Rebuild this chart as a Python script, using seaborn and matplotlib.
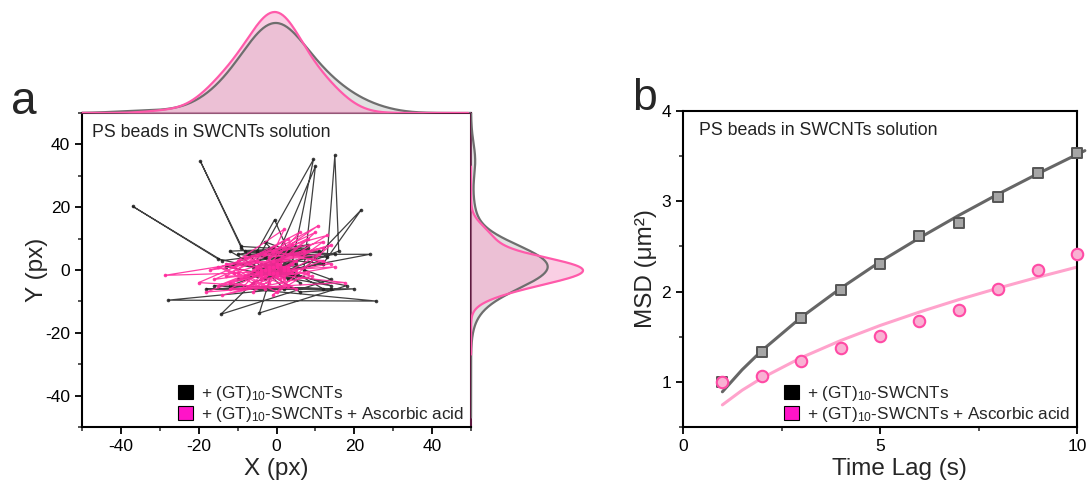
import numpy as np
import pandas as pd
import matplotlib
matplotlib.use("Agg")
import matplotlib.pyplot as plt
from matplotlib.patches import Patch
from matplotlib.ticker import MultipleLocator
import seaborn as sns

# ---------------- data ----------------
# Bead trajectory, (GT)10-SWCNTs (px)
black_x = [-5, 8, -10, 12, -3, 5, -15, -37, -14, 6,
           -8, 10, -2, 15, -6, 9.5, 4, -12, 14, -16,
           25.7, -27.8, 2, -9, -19.6, -9, 11, -4, 14, -14.3,
           -6, 16, 15, 13, -1, -11, 18, -4.4, 0, 10,
           7, 21.8, 12, -10, 24, -7, 3, -0.5, -5, 12,
           -18, 20, 6, -12, 8, -3, 14, -13, 4, -8,
           4, -3, 2, -6, 5, -1, 3, -4, 6, 0,
           -2, 1, -5, 3, 2, -4, 5, -1, 1, -3,
           4, -2, 0, -6, 2, -1, 3, -3, 4, -5,
           1, -2, 0, 5, -4, 3, -1, 2, -2, 1]
black_y = [3, 8, 5, 2, 9, -2, 3.5, 20.3, 3, 6,
           6, 4, 7, 5, 1, 35.2, 2, -5, -6, -5,
           -9.9, -9.6, -6, 7, 34.7, 7.5, 6, 5, -3, -14.1,
           -4, 6, 36.5, 4, 7, 2, -5, -13.7, 4, 33,
           0, 19.2, 2, -3, 5, 5, 6, 16, 6, -6,
           -6, -6, -7, 6, 7, 2, -5, 1, 5, -2,
           2, -3, 1, -1, 3, -2, 0, 2, -4, 1,
           -1, 3, -2, 0, 1, -3, 2, -1, 0, 4,
           -2, 1, 3, -1, 0, 2, -3, 1, -2, 0,
           3, -1, 1, -2, 0, 2, -1, 0, 1, -1]

# Bead trajectory, (GT)10-SWCNTs + ascorbic acid (px)
pink_x = [-8, -15, -3, -12, 2, -16, -5, -28.7, -10, 0,
          -13, 5, -7, 8, -2, 12, -6, 10.6, -1, 14,
          -9, -18, 3, -11, 6, -4, 17.5, -12, 1, 13,
          -8, 9, -14, -2, 11, -17, 4, -6, 12, -10,
          2, -4, 15, -11, 7, -15, 0, 10, -7, 5,
          -20, -3, 12, -9, 3, -13, 8, -1, 14, -5,
          3, -4, 1, -2, 4, -5, 2, -1, 5, -3,
          0, -2, 3, -4, 1, 4, -1, 2, -3, 0,
          -1, 3, -5, 1, 2, -2, 3, 0, 4, -1]
pink_y = [-2, 1, -6, -4, 0, -3, 3, -1.7, -1, -7,
          2, 3, -5, 10, 4, 7, 0, 14, 6, 2,
          -3, -7, -5, 1, 12, -1, -4, -6, 2, 11,
          4, -2, -8, -4, 5, 0, 8, -7, 9, 3,
          13, -3, 1, -1, 6, -5, 1, 12, 2, -6,
          -4, 5, 3, -6, 10, -2, -1, -8, 8, 1,
          1, -2, 2, 0, -1, 3, -3, 1, 0, -2,
          2, -1, 1, 0, -3, 2, -1, 1, 0, -2,
          3, 0, -1, 2, -2, 1, 0, -1, 2, -1]

# Mean squared displacement vs time lag
lag_time = [1, 2, 3, 4, 5, 6, 7, 8, 9, 10]
msd_gt = [1.00, 1.335, 1.71, 2.02, 2.31, 2.62, 2.76, 3.05, 3.31, 3.53]
msd_gt_aa = [1.00, 1.07, 1.23, 1.37, 1.51, 1.67, 1.80, 2.03, 2.235, 2.42]

# Fitted curves
fit_time = [1, 1.5, 2, 3, 4, 5, 6, 7, 8, 9, 10, 10.2]
fit_gt = [0.89, 1.134, 1.346, 1.715, 2.036, 2.33, 2.594, 2.844, 3.08, 3.304, 3.519, 3.561]
fit_time_aa = [1, 1.5, 2, 3, 4, 5, 6, 7, 8, 9, 10]
fit_gt_aa = [0.745, 0.907, 1.042, 1.268, 1.457, 1.624, 1.773, 1.911, 2.038, 2.158, 2.271]

legend_labels = ["+ (GT)$_{\\mathregular{10}}$-SWCNTs",
                 "+ (GT)$_{\\mathregular{10}}$-SWCNTs + Ascorbic acid"]

# ---------------- style ----------------
sns.set_theme(style="ticks")
plt.rcParams["font.family"] = ["Liberation Sans", "DejaVu Sans"]
plt.rcParams["mathtext.fontset"] = "custom"
plt.rcParams["mathtext.rm"] = "Liberation Sans"
plt.rcParams["mathtext.it"] = "Liberation Sans:italic"
plt.rcParams["axes.unicode_minus"] = False
plt.rcParams["axes.linewidth"] = 1.5
plt.rcParams["xtick.major.width"] = 1.3
plt.rcParams["ytick.major.width"] = 1.3
plt.rcParams["xtick.minor.width"] = 1.1
plt.rcParams["ytick.minor.width"] = 1.1
plt.rcParams["xtick.major.size"] = 5
plt.rcParams["ytick.major.size"] = 5
plt.rcParams["xtick.minor.size"] = 3
plt.rcParams["ytick.minor.size"] = 3
plt.rcParams["xtick.direction"] = "out"
plt.rcParams["ytick.direction"] = "out"

W, H = 1090, 486
fig = plt.figure(figsize=(W / 100, H / 100), dpi=100)


def rect(l, t, r, b):
    return [l / W, 1 - b / H, (r - l) / W, (b - t) / H]


BLACK = "#1e1e1e"
PINK = "#ff2a9c"
GREY_LINE = "#6e6e6e"
GREY_FILL = "#bdbdbd"
PINK_LINE = "#ff5aaa"
PINK_FILL = "#f7a0ca"
FRAME = "#5e1a40"
TEXT_SIZE = 12.8
LEGEND_SIZE = 12.3
TICK_SIZE = 12.5
LABEL_SIZE = 17.5

# ---------------- panel a ----------------
ax = fig.add_axes(rect(82, 113, 471, 427))
ax_top = fig.add_axes(rect(82, 0, 471, 113), sharex=ax)
ax_right = fig.add_axes(rect(471, 113, 592, 427), sharey=ax)

traj_black = pd.DataFrame({"x": black_x, "y": black_y})
traj_pink = pd.DataFrame({"x": pink_x, "y": pink_y})

sns.lineplot(data=traj_black, x="x", y="y", sort=False, estimator=None, ax=ax,
             color=BLACK, lw=0.9, alpha=0.85, marker="o", markersize=2.6,
             markeredgewidth=0)
sns.lineplot(data=traj_pink, x="x", y="y", sort=False, estimator=None, ax=ax,
             color=PINK, lw=0.9, alpha=0.9, marker="o", markersize=2.6,
             markeredgewidth=0)

ax.set_xlim(-50, 50)
ax.set_ylim(-50, 50)
ax.xaxis.set_major_locator(MultipleLocator(20))
ax.xaxis.set_minor_locator(MultipleLocator(10))
ax.yaxis.set_major_locator(MultipleLocator(20))
ax.yaxis.set_minor_locator(MultipleLocator(10))
ax.tick_params(axis="both", which="major", labelsize=TICK_SIZE, colors="black")
ax.set_xlabel("X (px)", fontsize=LABEL_SIZE, labelpad=3)
ax.set_ylabel("Y (px)", fontsize=LABEL_SIZE, labelpad=-2)
for side in ("left", "bottom"):
    ax.spines[side].set_color("black")
for side in ("top", "right"):
    ax.spines[side].set_color(FRAME)
ax.text(0.025, 0.965, "PS beads in SWCNTs solution", transform=ax.transAxes,
        ha="left", va="top", fontsize=TEXT_SIZE, color="#222222")

handles = [Patch(facecolor="black", edgecolor="black", lw=0.8),
           Patch(facecolor="#ff14c8", edgecolor="black", lw=0.8)]
ax.legend(handles, legend_labels, loc="lower right", frameon=False, fontsize=LEGEND_SIZE,
          handlelength=0.9, handleheight=0.9, handletextpad=0.45, labelspacing=0.1,
          borderaxespad=0.0, bbox_to_anchor=(1.0, -0.012))

# marginal densities
kde_x_bw, kde_y_bw = 1.5, 1.6
sns.kdeplot(x=black_x, ax=ax_top, fill=True, color=GREY_FILL, alpha=0.45, lw=0,
            bw_adjust=kde_x_bw, gridsize=400, cut=6)
sns.kdeplot(x=pink_x, ax=ax_top, fill=True, color=PINK_FILL, alpha=0.5, lw=0,
            bw_adjust=kde_x_bw, gridsize=400, cut=6)
sns.kdeplot(x=black_x, ax=ax_top, color=GREY_LINE, lw=1.6, bw_adjust=kde_x_bw,
            gridsize=400, cut=6)
sns.kdeplot(x=pink_x, ax=ax_top, color=PINK_LINE, lw=1.6, bw_adjust=kde_x_bw,
            gridsize=400, cut=6)
top_peak = max(line.get_ydata().max() for line in ax_top.lines)
ax_top.set_ylim(0, top_peak * 113 / 101)

sns.kdeplot(y=black_y, ax=ax_right, fill=True, color=GREY_FILL, alpha=0.45, lw=0,
            bw_adjust=kde_y_bw, gridsize=400, cut=6)
sns.kdeplot(y=pink_y, ax=ax_right, fill=True, color=PINK_FILL, alpha=0.5, lw=0,
            bw_adjust=kde_y_bw, gridsize=400, cut=6)
sns.kdeplot(y=black_y, ax=ax_right, color=GREY_LINE, lw=1.6, bw_adjust=kde_y_bw,
            gridsize=400, cut=6)
sns.kdeplot(y=pink_y, ax=ax_right, color=PINK_LINE, lw=1.6, bw_adjust=kde_y_bw,
            gridsize=400, cut=6)
right_peak = max(line.get_xdata().max() for line in ax_right.lines)
ax_right.set_xlim(0, right_peak * 121 / 112)

for m in (ax_top, ax_right):
    m.set_axis_off()
ax_top.set_xlim(-50, 50)
ax_right.set_ylim(-50, 50)

fig.text(11 / W, 1 - 114 / H, "a", fontsize=33, ha="left", va="baseline")

# ---------------- panel b ----------------
bx = fig.add_axes(rect(683, 111, 1077, 427))

sns.lineplot(x=fit_time, y=fit_gt, ax=bx, color="#666666", lw=2.2, clip_on=False,
             sort=False, estimator=None)
sns.lineplot(x=fit_time_aa, y=fit_gt_aa, ax=bx, color="#ffa3cc", lw=2.2,
             sort=False, estimator=None)
sns.scatterplot(x=lag_time, y=msd_gt, ax=bx, marker="s", s=50, color="#a6a6a6",
                edgecolor="#555555", linewidth=1.4, zorder=3, clip_on=False)
sns.scatterplot(x=lag_time, y=msd_gt_aa, ax=bx, marker="o", s=68, color="#f9b1d3",
                edgecolor="#ff4aa5", linewidth=1.5, zorder=4, clip_on=False)

bx.set_xlim(0, 10)
bx.set_ylim(0.5, 4)
bx.xaxis.set_major_locator(MultipleLocator(5))
bx.xaxis.set_minor_locator(MultipleLocator(2.5))
bx.yaxis.set_major_locator(MultipleLocator(1))
bx.yaxis.set_minor_locator(MultipleLocator(0.5))
bx.tick_params(axis="both", which="major", labelsize=TICK_SIZE, colors="black")
bx.set_xlabel("Time Lag (s)", fontsize=LABEL_SIZE, labelpad=3)
bx.xaxis.label.set_x(0.55)
bx.set_ylabel("MSD (μm²)", fontsize=LABEL_SIZE, labelpad=3)
for side in bx.spines:
    bx.spines[side].set_color("black")
bx.text(0.04, 0.965, "PS beads in SWCNTs solution", transform=bx.transAxes,
        ha="left", va="top", fontsize=TEXT_SIZE, color="#222222")
bx.legend(handles, legend_labels, loc="lower right", frameon=False, fontsize=LEGEND_SIZE,
          handlelength=0.9, handleheight=0.9, handletextpad=0.45, labelspacing=0.1,
          borderaxespad=0.0, bbox_to_anchor=(1.0, -0.012))

fig.text(632 / W, 1 - 110 / H, "b", fontsize=32, ha="left", va="baseline")

fig.savefig("out.png", dpi=100)
